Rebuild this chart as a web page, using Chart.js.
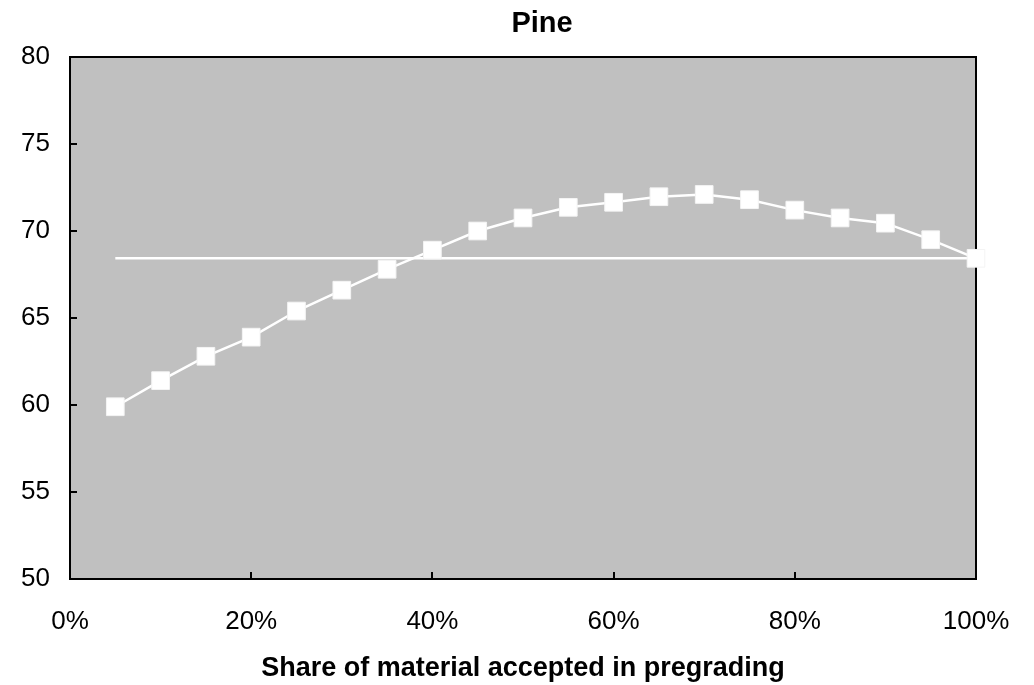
<!DOCTYPE html>
<html lang="en">
<head>
    <meta charset="UTF-8">
    <title>Pine</title>
    <script src="https://cdn.jsdelivr.net/npm/chart.js"></script>
    <style>
        html, body {
            margin: 0;
            padding: 0;
            background-color: #fff;
        }
        #pineChart {
            display: block;
        }
    </style>
</head>
<body>
    <canvas id="pineChart" width="1034" height="685"></canvas>

    <script>
        // share of material accepted in pregrading (%)
        const shares = [5, 10, 15, 20, 25, 30, 35, 40, 45, 50, 55, 60, 65, 70, 75, 80, 85, 90, 95, 100];
        // value for each share
        const pineValues = [59.9, 61.4, 62.8, 63.9, 65.4, 66.6, 67.8, 68.9, 70.0, 70.75,
                            71.36, 71.65, 71.97, 72.1, 71.8, 71.2, 70.75, 70.45, 69.5, 68.43];
        // level of the flat reference line
        const baseLevel = 68.43;
        const yTicks = [50, 55, 60, 65, 70, 75, 80];
        const xTicks = [0, 20, 40, 60, 80, 100];

        const fontFamily = "'Liberation Sans', Arial, Helvetica, sans-serif";
        Chart.defaults.font.family = fontFamily;
        Chart.defaults.color = '#000';

        // grey plot area with a black frame round it
        const plotFrame = {
            id: 'plotFrame',
            beforeDraw(chart) {
                const { ctx, chartArea: a } = chart;
                ctx.save();
                ctx.fillStyle = '#c0c0c0';
                ctx.fillRect(a.left, a.top, a.right - a.left, a.bottom - a.top);
                ctx.restore();
            },
            beforeDatasetsDraw(chart) {
                const { ctx, chartArea: a } = chart;
                ctx.save();
                ctx.strokeStyle = '#000';
                ctx.lineWidth = 2;
                ctx.strokeRect(a.left, a.top, a.right - a.left, a.bottom - a.top);
                ctx.restore();
            }
        };

        // title sits a little right of the plot centre in the original
        const chartTitle = {
            id: 'chartTitle',
            afterDraw(chart) {
                const ctx = chart.ctx;
                ctx.save();
                ctx.font = 'bold 29px ' + fontFamily;
                ctx.fillStyle = '#000';
                ctx.textAlign = 'center';
                ctx.textBaseline = 'alphabetic';
                ctx.fillText('Pine', 542, 32);
                ctx.restore();
            }
        };

        const ctx = document.getElementById('pineChart').getContext('2d');

        new Chart(ctx, {
            type: 'line',
            data: {
                datasets: [
                    {
                        label: 'Pine',
                        data: shares.map((s, i) => ({ x: s, y: pineValues[i] })),
                        borderColor: '#fff',
                        borderWidth: 2.5,
                        backgroundColor: '#fff',
                        pointStyle: 'rect',
                        pointRadius: 12.5,
                        pointBorderWidth: 1,
                        pointBorderColor: '#f4f4f4',
                        pointBackgroundColor: '#fff',
                        tension: 0,
                        clip: false
                    },
                    {
                        label: 'Level',
                        data: [
                            { x: shares[0], y: baseLevel },
                            { x: shares[shares.length - 1], y: baseLevel }
                        ],
                        borderColor: '#fff',
                        borderWidth: 2.5,
                        pointRadius: 0,
                        tension: 0,
                        clip: false,
                        order: 1
                    }
                ]
            },
            options: {
                responsive: false,
                animation: false,
                layout: {
                    padding: { top: 57, right: 58, left: 0, bottom: 0 }
                },
                plugins: {
                    legend: { display: false },
                    tooltip: { enabled: false },
                    title: { display: false }
                },
                scales: {
                    x: {
                        type: 'linear',
                        min: 0,
                        max: 100,
                        afterBuildTicks: (scale) => {
                            scale.ticks = xTicks.map(v => ({ value: v }));
                        },
                        afterFit: (scale) => {
                            scale.height = 106;
                            scale.paddingLeft = 0;
                            scale.paddingRight = 0;
                        },
                        border: { display: false },
                        grid: {
                            drawOnChartArea: false,
                            drawTicks: true,
                            tickLength: -7,
                            color: '#000',
                            lineWidth: 2
                        },
                        ticks: {
                            padding: 34,
                            maxRotation: 0,
                            font: { size: 26 },
                            callback: (v) => v + '%'
                        },
                        title: {
                            display: true,
                            text: 'Share of material accepted in pregrading',
                            font: { size: 27, weight: 'bold' },
                            padding: { top: 0, bottom: 0 }
                        }
                    },
                    y: {
                        min: 50,
                        max: 80,
                        afterBuildTicks: (scale) => {
                            scale.ticks = yTicks.map(v => ({ value: v }));
                        },
                        afterFit: (scale) => {
                            scale.width = 70;
                            scale.paddingTop = 0;
                            scale.paddingBottom = 0;
                        },
                        border: { display: false },
                        grid: {
                            drawOnChartArea: false,
                            drawTicks: true,
                            tickLength: -7,
                            color: '#000',
                            lineWidth: 2
                        },
                        ticks: {
                            padding: 27,
                            font: { size: 26 }
                        }
                    }
                }
            },
            plugins: [plotFrame, chartTitle]
        });
    </script>
</body>
</html>
